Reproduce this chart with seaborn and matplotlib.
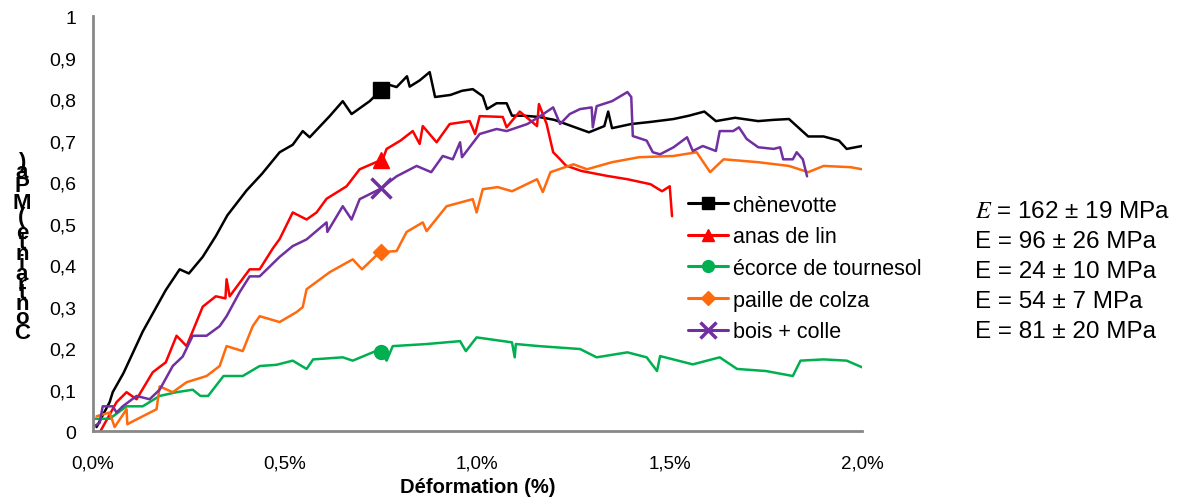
import numpy as np
import pandas as pd
import matplotlib
matplotlib.use("Agg")
import matplotlib.pyplot as plt
import matplotlib.ticker as mticker
from matplotlib.lines import Line2D
import seaborn as sns

sns.set_style("white")
plt.rcParams["font.family"] = ["Liberation Sans", "DejaVu Sans"]
plt.rcParams["mathtext.fontset"] = "stix"
plt.rcParams.update({"text.color": "black", "axes.labelcolor": "black",
                     "xtick.color": "black", "ytick.color": "black"})

# ── Data ───────────────────────────────────────────────────────────────────────
# strain in %, stress in MPa
chene_x = [0.01, 0.044, 0.052, 0.08, 0.10, 0.13, 0.16, 0.19, 0.226, 0.25, 0.286, 0.32, 0.35, 0.40,
           0.44, 0.486, 0.52, 0.546, 0.564, 0.616, 0.65, 0.673, 0.72, 0.765, 0.79, 0.817, 0.824,
           0.85, 0.876, 0.89, 0.93, 0.96, 0.988, 1.014, 1.025, 1.05, 1.076, 1.09, 1.12, 1.16, 1.20,
           1.23, 1.26, 1.29, 1.33, 1.34, 1.35, 1.40, 1.45, 1.51, 1.55, 1.59, 1.62, 1.67, 1.73, 1.77,
           1.81, 1.86, 1.90, 1.94, 1.96, 2.0]
chene_y = [0.01, 0.07, 0.094, 0.14, 0.18, 0.24, 0.29, 0.34, 0.39, 0.38, 0.42, 0.47, 0.52, 0.58,
           0.62, 0.672, 0.69, 0.723, 0.708, 0.759, 0.795, 0.764, 0.795, 0.836, 0.829, 0.855, 0.83,
           0.845, 0.865, 0.805, 0.81, 0.82, 0.824, 0.807, 0.776, 0.79, 0.79, 0.76, 0.76, 0.757, 0.75,
           0.74, 0.73, 0.72, 0.735, 0.77, 0.73, 0.74, 0.745, 0.752, 0.76, 0.77, 0.747, 0.755, 0.747, 0.75,
           0.752, 0.71, 0.71, 0.70, 0.68, 0.687]

lin_x = [0.02, 0.062, 0.088, 0.114, 0.156, 0.19, 0.218, 0.244, 0.286, 0.32, 0.345, 0.348, 0.356,
         0.408, 0.434, 0.468, 0.486, 0.52, 0.556, 0.582, 0.608, 0.66, 0.694, 0.754, 0.764, 0.80,
         0.832, 0.85, 0.858, 0.894, 0.928, 0.98, 0.994, 1.006, 1.066, 1.076, 1.11, 1.155, 1.16,
         1.18, 1.197, 1.215, 1.23, 1.27, 1.337, 1.39, 1.45, 1.48, 1.50, 1.506]
lin_y = [0.0, 0.07, 0.094, 0.077, 0.142, 0.166, 0.23, 0.205, 0.30, 0.325, 0.32, 0.366, 0.325,
         0.39, 0.39, 0.44, 0.463, 0.527, 0.51, 0.527, 0.56, 0.59, 0.631, 0.655, 0.68, 0.70,
         0.723, 0.692, 0.735, 0.696, 0.74, 0.747, 0.716, 0.759, 0.757, 0.732, 0.77, 0.735, 0.788,
         0.74, 0.672, 0.655, 0.64, 0.627, 0.615, 0.607, 0.595, 0.578, 0.59, 0.518]

tourn_x = [0.0, 0.044, 0.088, 0.13, 0.174, 0.218, 0.26, 0.28, 0.30, 0.34, 0.39, 0.434, 0.478, 0.52,
           0.556, 0.573, 0.65, 0.676, 0.746, 0.764, 0.78, 0.868, 0.955, 0.97, 0.998, 1.09, 1.097,
           1.10, 1.16, 1.267, 1.31, 1.39, 1.44, 1.467, 1.475, 1.56, 1.63, 1.675, 1.75, 1.82, 1.84,
           1.90, 1.96, 2.0]
tourn_y = [0.03, 0.03, 0.06, 0.06, 0.085, 0.094, 0.10, 0.085, 0.085, 0.133, 0.133, 0.157, 0.16, 0.17,
           0.15, 0.173, 0.178, 0.17, 0.197, 0.17, 0.205, 0.21, 0.217, 0.193, 0.226, 0.214, 0.178,
           0.21, 0.205, 0.198, 0.178, 0.19, 0.178, 0.145, 0.181, 0.161, 0.178, 0.15, 0.145, 0.133, 0.17,
           0.173, 0.17, 0.154]

colza_x = [0.01, 0.044, 0.057, 0.088, 0.09, 0.13, 0.166, 0.174, 0.208, 0.244, 0.296, 0.33, 0.348,
           0.39, 0.416, 0.434, 0.486, 0.53, 0.546, 0.556, 0.616, 0.676, 0.70, 0.746, 0.79, 0.816,
           0.858, 0.868, 0.92, 0.988, 0.998, 1.014, 1.053, 1.09, 1.155, 1.17, 1.19, 1.25, 1.285,
           1.35, 1.42, 1.51, 1.57, 1.605, 1.64, 1.73, 1.81, 1.86, 1.90, 1.97, 2.0]
colza_y = [0.036, 0.045, 0.01, 0.053, 0.017, 0.036, 0.053, 0.108, 0.094, 0.118, 0.133, 0.157, 0.205,
           0.193, 0.253, 0.277, 0.263, 0.287, 0.299, 0.342, 0.383, 0.414, 0.39, 0.431, 0.434, 0.48,
           0.503, 0.482, 0.542, 0.559, 0.527, 0.583, 0.588, 0.578, 0.607, 0.576, 0.624, 0.643, 0.631,
           0.648, 0.66, 0.663, 0.672, 0.624, 0.655, 0.648, 0.639, 0.624, 0.639, 0.636, 0.631]

bois_x = [0.0, 0.018, 0.026, 0.052, 0.062, 0.078, 0.114, 0.148, 0.174, 0.208, 0.234, 0.26, 0.296,
          0.33, 0.348, 0.382, 0.408, 0.434, 0.486, 0.52, 0.556, 0.608, 0.61, 0.65, 0.673, 0.694,
          0.746, 0.79, 0.842, 0.88, 0.91, 0.936, 0.955, 0.96, 1.006, 1.05, 1.076, 1.13, 1.16, 1.197,
          1.215, 1.24, 1.267, 1.297, 1.30, 1.31, 1.35, 1.39, 1.40, 1.404, 1.44, 1.456, 1.475, 1.51,
          1.545, 1.56, 1.586, 1.62, 1.63, 1.665, 1.68, 1.70, 1.73, 1.77, 1.787, 1.795, 1.82, 1.83,
          1.846, 1.857]
bois_y = [0.01, 0.02, 0.06, 0.06, 0.045, 0.06, 0.085, 0.077, 0.10, 0.157, 0.18, 0.23, 0.23,
          0.253, 0.277, 0.335, 0.373, 0.373, 0.42, 0.446, 0.462, 0.503, 0.48, 0.542, 0.51, 0.559,
          0.583, 0.614, 0.639, 0.624, 0.663, 0.655, 0.696, 0.66, 0.716, 0.728, 0.723, 0.74, 0.757, 0.78,
          0.74, 0.764, 0.776, 0.78, 0.732, 0.783, 0.795, 0.817, 0.805, 0.711, 0.70, 0.672, 0.667, 0.684,
          0.708, 0.675, 0.687, 0.675, 0.723, 0.723, 0.732, 0.704, 0.684, 0.68, 0.684, 0.655, 0.655, 0.672,
          0.655, 0.614]

labels = ["chènevotte", "anas de lin", "écorce de tournesol", "paille de colza", "bois + colle"]
modulus = ["$E$ = 162 ± 19 MPa", "E = 96 ± 26 MPa", "E = 24 ± 10 MPa",
           "E = 54 ± 7 MPa", "E = 81 ± 20 MPa"]
marker_strain = 0.75

series = [
    (chene_x, chene_y, "#000000", "s", 11),
    (lin_x, lin_y, "#FF0000", "^", 11),
    (tourn_x, tourn_y, "#00B050", "o", 10),
    (colza_x, colza_y, "#FF6A0D", "D", 8),
    (bois_x, bois_y, "#7030A0", "x", 14),
]

# ── Figure ─────────────────────────────────────────────────────────────────────
fig = plt.figure(figsize=(12.04, 5.02), dpi=100)
ax = fig.add_axes([0.077, 0.139, 0.639, 0.827])

handles = []
for (xs, ys, col, mk, ms), lab in zip(series, labels):
    df = pd.DataFrame({"x": xs, "y": ys})
    sns.lineplot(data=df, x="x", y="y", sort=False, estimator=None, color=col,
                 linewidth=1.8, ax=ax)
    my = np.interp(marker_strain, xs, ys)
    mew = 2.5 if mk == "x" else 1
    ax.plot([marker_strain], [my], marker=mk, color=col, markersize=ms,
            markeredgewidth=mew, linestyle="none", zorder=5)
    handles.append(Line2D([0], [0], color=col, linewidth=2.2, marker=mk,
                          markersize=ms * 0.85, markeredgewidth=mew))

ax.set_xlim(0, 2.0)
ax.set_ylim(0, 1.0)
ax.xaxis.set_major_locator(mticker.MultipleLocator(0.5))
ax.yaxis.set_major_locator(mticker.MultipleLocator(0.1))
ax.xaxis.set_major_formatter(mticker.FuncFormatter(lambda v, p: f"{v:.1f}%".replace(".", ",")))


def yfmt(v, p):
    if abs(v) < 1e-9:
        return "0"
    if abs(v - 1) < 1e-9:
        return "1"
    return f"{v:.1f}".replace(".", ",")


ax.yaxis.set_major_formatter(mticker.FuncFormatter(yfmt))

for s in ["top", "right"]:
    ax.spines[s].set_visible(False)
for s in ["left", "bottom"]:
    ax.spines[s].set_color("#888888")
    ax.spines[s].set_linewidth(2)
ax.tick_params(axis="both", direction="out", length=6, width=1.5, color="#888888",
               labelcolor="black", labelsize=14, pad=6)
ax.tick_params(axis="x", pad=11, labelsize=13.5)

ax.set_xlabel("Déformation (%)", fontsize=14.5, fontweight="bold", labelpad=4)
ax.set_ylabel("")

ax.legend(handles, labels, loc="upper left", bbox_to_anchor=(0.762, 0.59), frameon=False,
          fontsize=15.5, handlelength=1.86, handletextpad=0.23, labelspacing=0.49,
          borderaxespad=0)

for i, txt in enumerate(modulus):
    fig.text(0.81, 1 - (212 + i * 30) / 502, txt, fontsize=17.5, va="center", ha="left")

# stacked y label, characters upright, read from bottom to top
ylabel = "Contrainte (MPa)"
adv = {"C": .722, "o": .611, "n": .611, "t": .333, "r": .389, "a": .556, "i": .278,
       "e": .556, " ": .278, "(": .333, "M": .833, "P": .667, "p": .611, ")": .333}
em_px = 23
pos = 334
for i, ch in enumerate(ylabel):
    if i > 0:
        pos -= (adv[ylabel[i - 1]] + adv[ch]) / 2 * em_px
    if ch != " ":
        fig.text(22 / 1204, 1 - pos / 502, ch, fontsize=16, fontweight="bold",
                 ha="center", va="center")

fig.savefig("out.png", dpi=100)
